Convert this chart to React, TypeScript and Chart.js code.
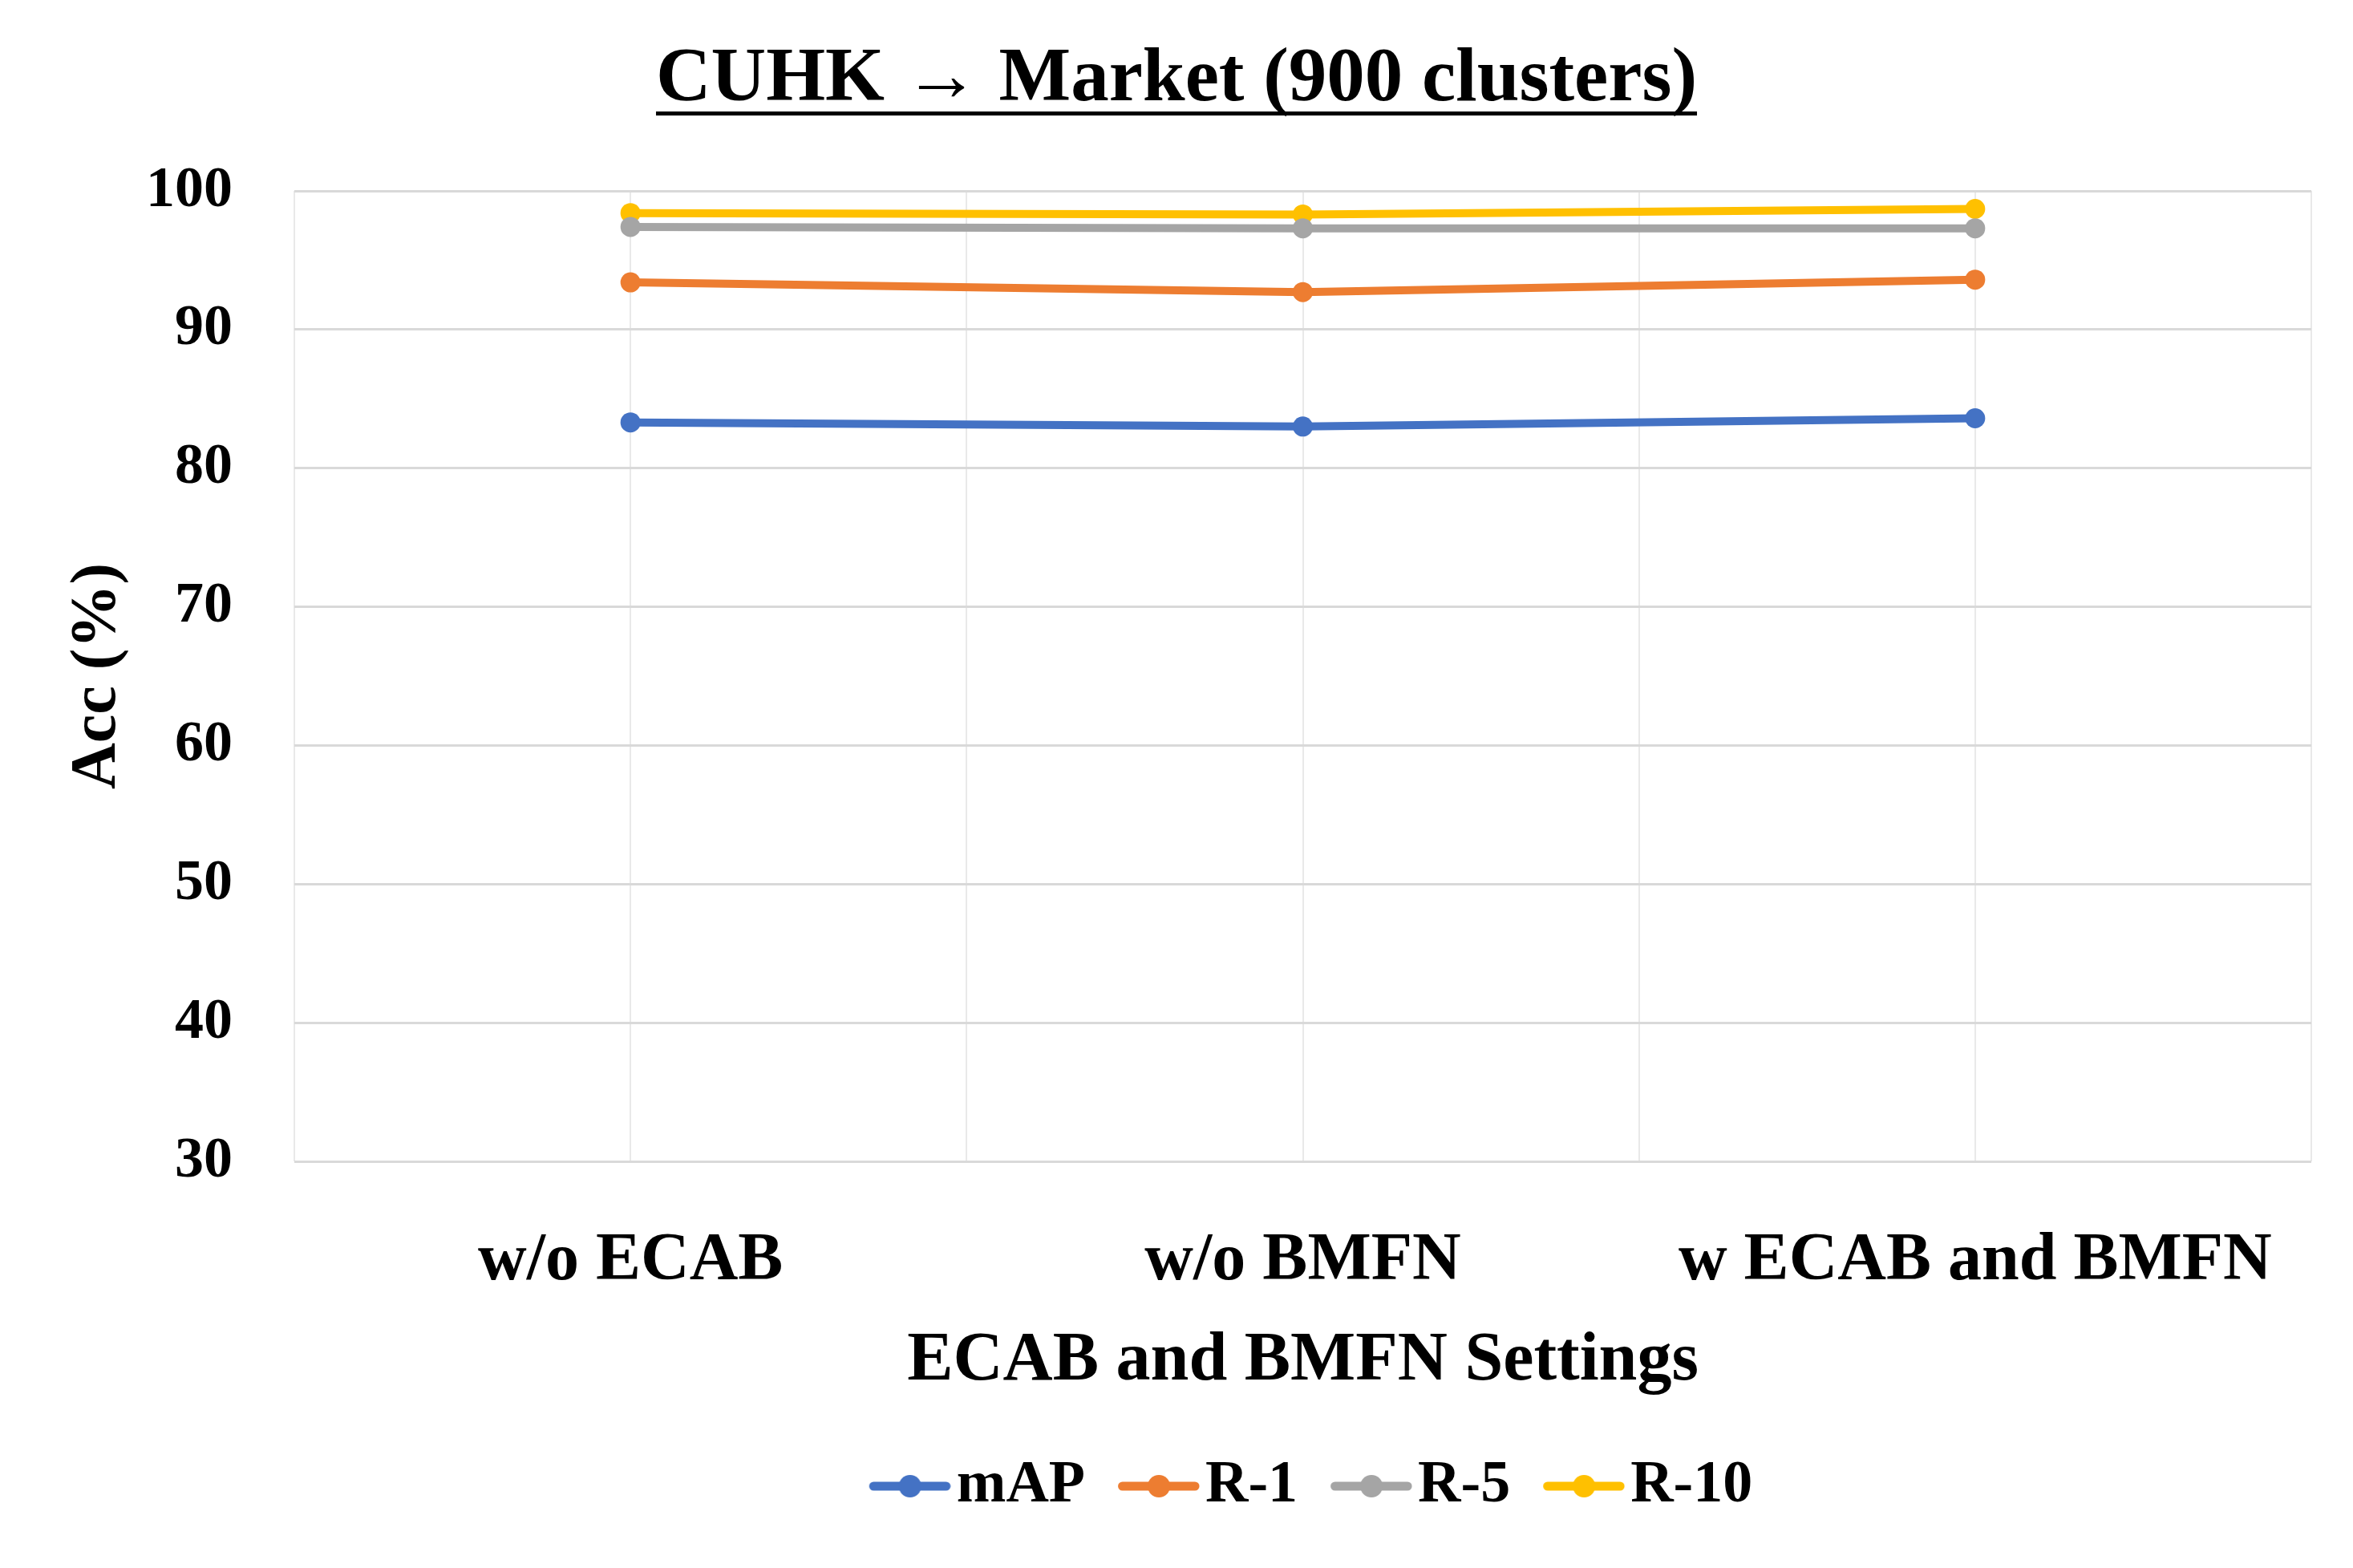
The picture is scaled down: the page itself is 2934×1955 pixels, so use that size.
import React, { useEffect, useRef } from 'react';
import { Chart, registerables } from 'chart.js';

Chart.register(...registerables);

const titleText = 'CUHK \u2192 Market (900 clusters)';
const categories = ['w/o ECAB', 'w/o BMFN', 'w ECAB and BMFN'];
const seriesNames = ['mAP', 'R-1', 'R-5', 'R-10'];
const mAPValues = [83.3, 83.0, 83.6];
const r1Values = [93.4, 92.7, 93.6];
const r5Values = [97.4, 97.3, 97.3];
const r10Values = [98.4, 98.3, 98.7];
const seriesColors = ['#4472C4', '#ED7D31', '#A5A5A5', '#FFC000'];
const yMin = 30;
const yMax = 100;
const yStep = 10;
const xTitle = 'ECAB and BMFN Settings';
const yTitle = 'Acc (%)';

const FONT = "'Liberation Serif', 'Times New Roman', serif";
const CLEAR = 'rgba(0,0,0,0)';

function makeLegendIcon(color: string): HTMLCanvasElement {
  const c = document.createElement('canvas');
  c.width = 130;
  c.height = 32;
  const ctx = c.getContext('2d')!;
  ctx.strokeStyle = color;
  ctx.lineWidth = 11;
  ctx.lineCap = 'round';
  ctx.beginPath();
  ctx.moveTo(33.5, 16);
  ctx.lineTo(124, 16);
  ctx.stroke();
  ctx.fillStyle = color;
  ctx.beginPath();
  ctx.arc(79, 16, 14, 0, Math.PI * 2);
  ctx.fill();
  return c;
}

const verticalGridPlugin = {
  id: 'verticalGrid',
  beforeDraw(chart: any) {
    const x = chart.scales.x;
    const area = chart.chartArea;
    if (!x || !area) return;
    const ctx = chart.ctx;
    ctx.save();
    ctx.strokeStyle = '#e9e9e9';
    ctx.lineWidth = 2;
    for (let v = -0.5; v <= categories.length - 0.5 + 1e-6; v += 0.5) {
      const px = Math.round(x.getPixelForValue(v));
      ctx.beginPath();
      ctx.moveTo(px, area.top);
      ctx.lineTo(px, area.bottom);
      ctx.stroke();
    }
    ctx.restore();
  },
};

const legendShiftPlugin = {
  id: 'legendShift',
  afterLayout(chart: any) {
    const lg = chart.legend;
    if (!lg) return;
    lg.left += 11;
    lg.right += 11;
  },
};

const underlinePlugin = {
  id: 'titleUnderline',
  afterDraw(chart: any) {
    const tb = chart.titleBlock;
    if (!tb) return;
    const ctx = chart.ctx;
    ctx.save();
    ctx.font = `bold 95px ${FONT}`;
    const w = ctx.measureText(titleText).width;
    const cx = (tb.left + tb.right) / 2;
    const y = tb.top + 43 + 57 + 39;
    ctx.fillStyle = '#000';
    ctx.fillRect(cx - w / 2, y, w, 5);
    ctx.restore();
  },
};

export default function App() {
  const ref = useRef<HTMLCanvasElement | null>(null);

  useEffect(() => {
    document.body.style.margin = '0';
    const canvas = ref.current;
    if (!canvas) return;
    const icons = seriesColors.map(makeLegendIcon);
    const values = [mAPValues, r1Values, r5Values, r10Values];
    const chart = new Chart(canvas, {
      type: 'line',
      data: {
        labels: categories,
        datasets: seriesNames.map((name, i) => ({
          label: name,
          data: values[i],
          borderColor: seriesColors[i],
          backgroundColor: seriesColors[i],
          borderWidth: 10,
          pointRadius: 12.5,
          pointBorderWidth: 0,
          pointBackgroundColor: seriesColors[i],
          tension: 0,
          fill: false,
        })),
      },
      options: {
        responsive: false,
        devicePixelRatio: 1,
        animation: false,
        layout: { padding: { left: 52, right: 52, top: 0, bottom: 55 } },
        plugins: {
          title: {
            display: true,
            text: titleText,
            color: '#000',
            font: { family: FONT, size: 95, weight: 'bold' },
            padding: { top: 43, bottom: 81 },
          },
          legend: {
            position: 'bottom',
            fullSize: false,
            labels: {
              color: '#000',
              font: { family: FONT, size: 74, weight: 'bold' },
              usePointStyle: true,
              pointStyleWidth: 70,
              padding: 43,
              generateLabels: (ch: any) => {
                const items = (Chart as any).defaults.plugins.legend.labels.generateLabels(ch);
                return items.map((it: any, i: number) => ({ ...it, pointStyle: icons[i] }));
              },
            },
          },
          tooltip: { enabled: false },
        },
        scales: {
          x: {
            type: 'category',
            offset: true,
            grid: {
              display: true,
              drawOnChartArea: false,
              drawTicks: true,
              tickLength: 75,
              color: CLEAR,
              tickColor: CLEAR,
            },
            border: { display: false },
            ticks: {
              color: '#000',
              font: { family: FONT, size: 84, weight: 'bold' },
              padding: 0,
              maxRotation: 0,
              autoSkip: false,
            },
            title: {
              display: true,
              text: xTitle,
              color: '#000',
              font: { family: FONT, size: 86, weight: 'bold' },
              padding: { top: 22, bottom: 24 },
            },
          },
          y: {
            min: yMin,
            max: yMax,
            grid: {
              color: '#d9d9d9',
              lineWidth: 3,
              drawTicks: true,
              tickLength: 77,
              tickColor: CLEAR,
            },
            border: { display: false },
            ticks: {
              stepSize: yStep,
              color: '#000',
              font: { family: FONT, size: 72, weight: 'bold' },
              padding: 0,
            },
            title: {
              display: true,
              text: yTitle,
              color: '#000',
              font: { family: FONT, size: 80, weight: 'bold' },
              padding: { top: 22, bottom: 12 },
            },
          },
        },
      },
      plugins: [verticalGridPlugin, legendShiftPlugin, underlinePlugin],
    });
    return () => chart.destroy();
  }, []);

  return (
    <div style={{ width: 2934, height: 1955, background: '#fff' }}>
      <canvas ref={ref} width={2934} height={1955} style={{ display: 'block' }} />
    </div>
  );
}
